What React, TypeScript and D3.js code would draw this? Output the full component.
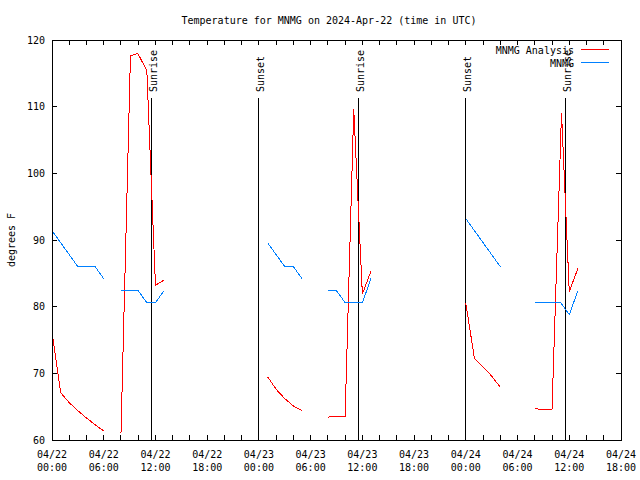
import React from "react";
import * as d3 from "d3";

// Hours since 2024-04-22 00:00 UTC; null marks a gap in the series
const analysisHours: (number | null)[] = [
  0, 1, 2, 3, 4, 5, 6, null,
  8, 9.1, 9.95, 11, 12, 13, null,
  25, 26, 27, 28, 29, null,
  32, 32.6, 34, 35, 36, 37, null,
  48, 49, 50, 51, 52, null,
  56, 56.5, 58, 59.1, 60, 61,
];
const analysisTemps: (number | null)[] = [
  76.3, 67.1, 65.6, 64.4, 63.3, 62.3, 61.35, null,
  61.0, 117.6, 118.0, 115.4, 83.2, 84.0, null,
  69.5, 67.6, 66.2, 65.1, 64.4, null,
  63.4, 63.6, 63.6, 109.65, 81.9, 85.35, null,
  80.5, 72.25, 70.95, 69.6, 67.9, null,
  64.75, 64.6, 64.6, 109.1, 82.25, 85.75,
];

const obsHours: (number | null)[] = [
  0, 1, 2, 3, 4, 5, 6, null,
  8, 9, 10, 11, 12, 13, null,
  25, 26, 27, 28, 29, null,
  32, 33, 34, 35, 36, 37, null,
  48, 49, 50, 51, 52, null,
  56, 57, 58, 59, 60, 61,
];
const obsTemps: (number | null)[] = [
  91.4, 89.6, 87.8, 86.0, 86.0, 86.0, 84.2, null,
  82.4, 82.4, 82.4, 80.6, 80.6, 82.4, null,
  89.6, 87.8, 86.0, 86.0, 84.2, null,
  82.4, 82.4, 80.6, 80.6, 80.6, 84.2, null,
  93.2, 91.4, 89.6, 87.8, 86.0, null,
  80.6, 80.6, 80.6, 80.6, 78.8, 82.4,
];

const sunHours = [11.5, 23.95, 35.53, 47.95, 59.55];
const sunLabels = ["Sunrise", "Sunset", "Sunrise", "Sunset", "Sunrise"];

const xTickHours = [0, 6, 12, 18, 24, 30, 36, 42, 48, 54, 60, 66];
const xTickDates = ["04/22", "04/22", "04/22", "04/22", "04/23", "04/23", "04/23", "04/23", "04/24", "04/24", "04/24", "04/24"];
const xTickTimes = ["00:00", "06:00", "12:00", "18:00", "00:00", "06:00", "12:00", "18:00", "00:00", "06:00", "12:00", "18:00"];
const yTicks = [60, 70, 80, 90, 100, 110, 120];

const seriesNames = ["MNMG Analysis", "MNMG"];
const seriesColors = ["#ff0000", "#0080ff"];

const FONT = "'DejaVu Sans Mono', monospace";

export default function App() {
  const W = 640, H = 480;
  const L = 52, R = 621, T = 40, B = 440;
  const x = d3.scaleLinear().domain([0, 66]).range([L, R]);
  const y = d3.scaleLinear().domain([60, 120]).range([B, T]);

  type P = [number | null, number | null];
  const line = d3
    .line<P>()
    .defined((d) => d[0] !== null && d[1] !== null)
    .x((d) => x(d[0] as number))
    .y((d) => y(d[1] as number));

  const aPts: P[] = analysisHours.map((h, i) => [h, analysisTemps[i]]);
  const oPts: P[] = obsHours.map((h, i) => [h, obsTemps[i]]);

  const minorTicks = d3.range(0, 67, 2);
  const tickLen = 5;

  return (
    <svg width={W} height={H} style={{ display: "block", position: "absolute", left: 0, top: 0, background: "#fff" }}
      fontFamily={FONT} fontSize={10}>
      <rect x={0} y={0} width={W} height={H} fill="#fff" />
      <text x={329} y={20} textAnchor="middle" dominantBaseline="central" fontSize={10}>
        Temperature for MNMG on 2024-Apr-22 (time in UTC)
      </text>

      {/* y ticks */}
      {yTicks.map((v) => (
        <g key={"y" + v}>
          <line x1={L} x2={L + tickLen} y1={y(v)} y2={y(v)} stroke="#000" shapeRendering="crispEdges" />
          <line x1={R} x2={R - tickLen} y1={y(v)} y2={y(v)} stroke="#000" shapeRendering="crispEdges" />
          <text x={45} y={y(v)} textAnchor="end" dominantBaseline="central">{v}</text>
        </g>
      ))}

      {/* x ticks */}
      {minorTicks.map((h) => (
        <g key={"xt" + h}>
          <line x1={x(h)} x2={x(h)} y1={B} y2={B - tickLen} stroke="#000" shapeRendering="crispEdges" />
          <line x1={x(h)} x2={x(h)} y1={T} y2={T + tickLen} stroke="#000" shapeRendering="crispEdges" />
        </g>
      ))}
      {xTickHours.map((h, i) => (
        <g key={"xl" + h}>
          <text x={x(h)} y={454} textAnchor="middle" dominantBaseline="central">{xTickDates[i]}</text>
          <text x={x(h)} y={467} textAnchor="middle" dominantBaseline="central">{xTickTimes[i]}</text>
        </g>
      ))}

      <text transform={`translate(11,${(T + B) / 2}) rotate(-90)`} textAnchor="middle" dominantBaseline="central">
        degrees F
      </text>

      {/* sunrise / sunset markers */}
      {sunHours.map((h, i) => (
        <g key={"s" + i}>
          <line x1={x(h)} x2={x(h)} y1={y(60)} y2={y(111.3)} stroke="#000" shapeRendering="crispEdges" />
          <text transform={`translate(${x(h) + 2},${y(112.2)}) rotate(-90)`} textAnchor="start" dominantBaseline="central">
            {sunLabels[i]}
          </text>
        </g>
      ))}

      {/* series */}
      <path d={line(aPts) || ""} fill="none" stroke={seriesColors[0]} strokeWidth={1} shapeRendering="crispEdges" />
      <path d={line(oPts) || ""} fill="none" stroke={seriesColors[1]} strokeWidth={1} shapeRendering="crispEdges" />

      {/* legend */}
      {seriesNames.map((n, i) => (
        <g key={"lg" + i}>
          <text x={574} y={50 + i * 13} textAnchor="end" dominantBaseline="central">{n}</text>
          <line x1={581} x2={609} y1={49.5 + i * 13} y2={49.5 + i * 13} stroke={seriesColors[i]} shapeRendering="crispEdges" />
        </g>
      ))}

      {/* frame */}
      <rect x={L} y={T} width={R - L} height={B - T} fill="none" stroke="#000" shapeRendering="crispEdges" />
    </svg>
  );
}
